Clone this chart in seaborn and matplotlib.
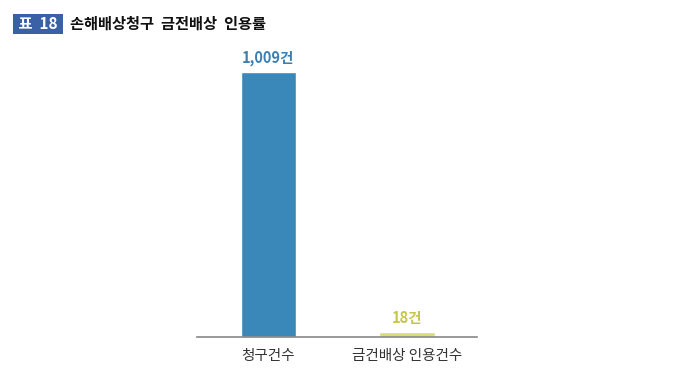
import pandas as pd
import seaborn as sns
import matplotlib.pyplot as plt

categories = ["청구건수", "금건배상 인용건수"]
counts = [1009, 18]
value_labels = ["1,009건", "18건"]
bar_colors = ["#3a88b9", "#d9dc7a"]
label_colors = ["#3b7fb0", "#c5c64e"]

df = pd.DataFrame({"category": categories, "count": counts})

sns.set_theme(style="white")
plt.rcParams["font.family"] = ["Noto Sans CJK KR", "DejaVu Sans"]

fig = plt.figure(figsize=(6.8, 3.85), dpi=100)
ax = fig.add_axes([0.29, 0.125, 0.412, 0.771])

sns.barplot(data=df, x="category", y="count", hue="category",
            palette=bar_colors, width=0.4, legend=False, ax=ax, saturation=1)

ax.set_ylim(0, 1131)
ax.set_xlim(-0.513, 1.509)
ax.set_xlabel("")
ax.set_ylabel("")
ax.set_yticks([])
ax.tick_params(axis="x", length=0, pad=9, labelsize=10.5, colors="#333333")
for side in ["top", "right", "left"]:
    ax.spines[side].set_visible(False)
ax.spines["bottom"].set_color("#888888")
ax.spines["bottom"].set_linewidth(1.2)

for i, (v, lab) in enumerate(zip(counts, value_labels)):
    ax.text(i, v + 22, lab, ha="center", va="bottom", fontsize=10.5,
            fontweight="semibold", color=label_colors[i])

# title with boxed number
fig.text(0.022, 0.938, " 표  18 ", fontsize=11, fontweight="bold", color="white",
         va="center", ha="left",
         bbox=dict(boxstyle="square,pad=0.15", fc="#3a60a6", ec="none"))
fig.text(0.103, 0.938, "손해배상청구  금전배상  인용률", fontsize=11,
         fontweight="bold", color="#111111", va="center", ha="left")

fig.savefig("out.png", dpi=100)
